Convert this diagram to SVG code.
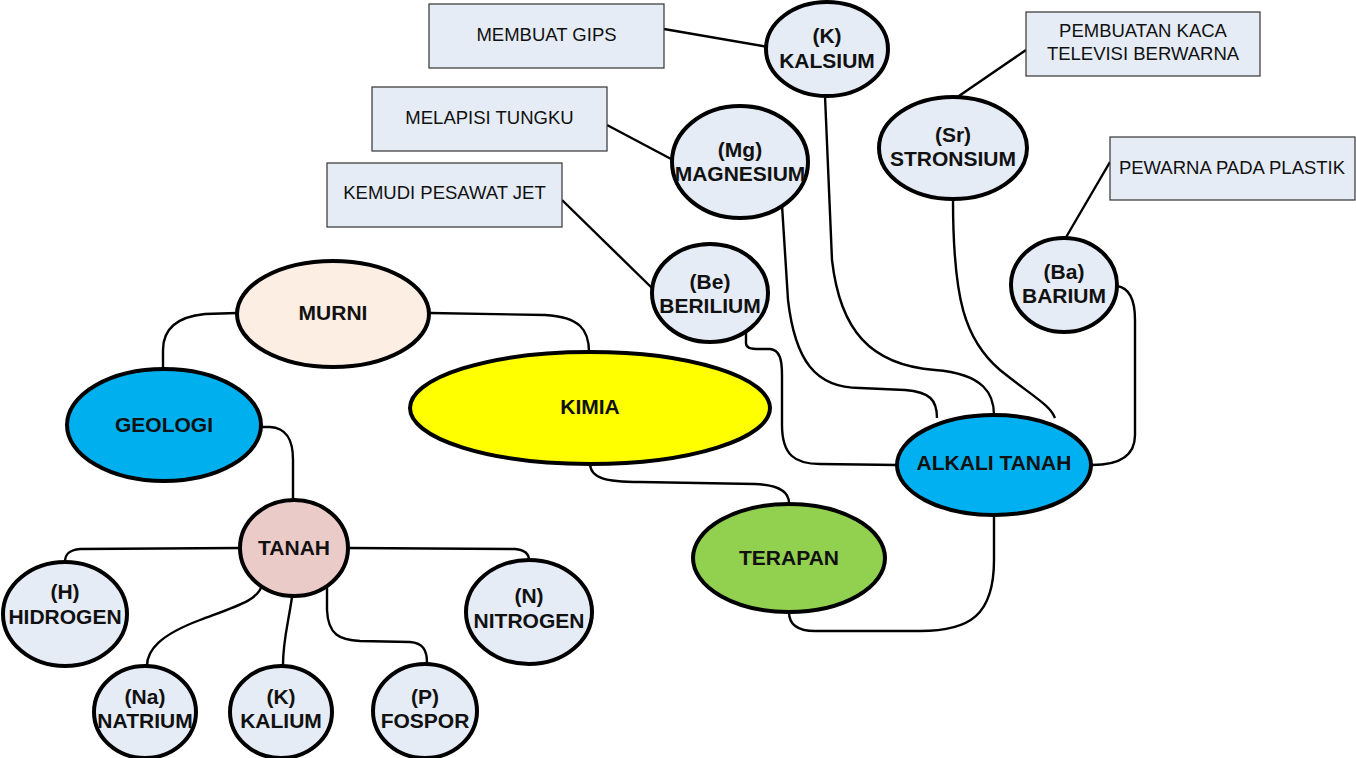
<svg xmlns="http://www.w3.org/2000/svg" width="1356" height="758" viewBox="0 0 1356 758">
<style>
.box{fill:#E6ECF6;stroke:#333;stroke-width:1.2}
.bt{font-family:"Liberation Sans",Arial,sans-serif;font-size:18.5px;fill:#111;text-anchor:middle}
.el{stroke:#000;stroke-width:4}
.lt{fill:#E6ECF6}
.nt{font-family:"Liberation Sans",Arial,sans-serif;font-size:21px;font-weight:bold;fill:#111;text-anchor:middle}
.cn path{fill:none;stroke:#000;stroke-width:2.4}
</style>
<rect width="1356" height="758" fill="#fff"/>
<g class="cn" id="connectors">
<path d="M664,29 L768,47"/>
<path d="M607,125 L673,160"/>
<path d="M562,200 L654,290"/>
<path d="M1026,50 L956,98"/>
<path d="M1110,162 L1065,239"/>
<path d="M825,96 L832,260 C840,330 870,365 935,370 C985,374 994,395 994,415"/>
<path d="M782,205 L788,300 C795,360 815,388 860,388 L905,390 C930,392 937,400 937,418"/>
<path d="M953,199 C953,300 965,340 1000,370 C1035,398 1050,405 1055,418"/>
<path d="M1117,286 C1130,288 1135,300 1135,320 L1135,435 C1135,455 1120,465 1092,465"/>
<path d="M746,333 L746,343 C746,348 750,349 760,349 L770,349 C780,350 782,360 782,375 L782,425 C782,455 795,464 820,464 L897,465"/>
<path d="M430,313 L545,315 C580,317 589,330 589,352"/>
<path d="M237,313 L205,314 C175,317 163,330 163,350 L163,369"/>
<path d="M261,427 L270,427 C287,428 293,440 293,460 L293,500"/>
<path d="M590,463 C590,478 605,482 640,482 L755,484 C780,485 789,492 789,503"/>
<path d="M994,515 L994,560 C994,615 970,631 920,631 L815,631 C795,631 789,622 789,612"/>
<path d="M240,548 L80,549 C68,550 65,555 65,562"/>
<path d="M348,548 L515,549 C525,550 529,554 529,560"/>
<path d="M262,585 C258,600 240,605 200,620 C160,635 147,650 147,666"/>
<path d="M292,597 C288,625 283,640 283,665"/>
<path d="M327,588 L327,610 C328,635 340,640 360,641 L410,642 C423,643 427,650 427,663"/>
</g>
<g id="gips"><rect class="box" x="429" y="4" width="235" height="64"/><text class="bt" x="546.5" y="41">MEMBUAT GIPS</text></g>
<g id="tungku"><rect class="box" x="372" y="87" width="235" height="64"/><text class="bt" x="489.5" y="124">MELAPISI TUNGKU</text></g>
<g id="jet"><rect class="box" x="327" y="163" width="235" height="64"/><text class="bt" x="444.5" y="199">KEMUDI PESAWAT JET</text></g>
<g id="kaca"><rect class="box" x="1026" y="12" width="234" height="64"/><text class="bt" x="1143" y="37">PEMBUATAN KACA</text><text class="bt" x="1143" y="60">TELEVISI BERWARNA</text></g>
<g id="plastik"><rect class="box" x="1110" y="137" width="245" height="63"/><text class="bt" x="1232" y="174">PEWARNA PADA PLASTIK</text></g>
<g id="kalsium"><ellipse class="el lt" cx="827" cy="49" rx="61" ry="47"/><text class="nt" x="827" y="43">(K)</text><text class="nt" x="827" y="68">KALSIUM</text></g>
<g id="magnesium"><ellipse class="el lt" cx="740" cy="162" rx="68" ry="56"/><text class="nt" x="740" y="157">(Mg)</text><text class="nt" x="740" y="181">MAGNESIUM</text></g>
<g id="stronsium"><ellipse class="el lt" cx="953" cy="148" rx="74" ry="51"/><text class="nt" x="953" y="142">(Sr)</text><text class="nt" x="953" y="166">STRONSIUM</text></g>
<g id="barium"><ellipse class="el lt" cx="1064" cy="285" rx="53" ry="47"/><text class="nt" x="1064" y="279">(Ba)</text><text class="nt" x="1064" y="303">BARIUM</text></g>
<g id="berilium"><ellipse class="el lt" cx="710" cy="293" rx="58" ry="49"/><text class="nt" x="710" y="289">(Be)</text><text class="nt" x="710" y="313">BERILIUM</text></g>
<g id="murni"><ellipse class="el" fill="#FDEEE3" cx="333" cy="314" rx="96" ry="53"/><text class="nt" x="333" y="320">MURNI</text></g>
<g id="geologi"><ellipse class="el" fill="#00B0EE" cx="164" cy="425" rx="97" ry="56"/><text class="nt" x="164" y="432">GEOLOGI</text></g>
<g id="kimia"><ellipse class="el" fill="#FFFF00" cx="590" cy="408" rx="180" ry="56"/><text class="nt" x="590" y="414">KIMIA</text></g>
<g id="alkali"><ellipse class="el" fill="#00B0F0" cx="994" cy="465" rx="97" ry="50"/><text class="nt" x="994" y="470">ALKALI TANAH</text></g>
<g id="terapan"><ellipse class="el" fill="#92D050" cx="789" cy="558" rx="96" ry="54"/><text class="nt" x="789" y="565">TERAPAN</text></g>
<g id="tanah"><ellipse class="el" fill="#EBCBC8" cx="294" cy="548" rx="54" ry="48"/><text class="nt" x="294" y="555">TANAH</text></g>
<g id="hidrogen"><ellipse class="el lt" cx="65" cy="614" rx="62" ry="52"/><text class="nt" x="65" y="599">(H)</text><text class="nt" x="65" y="624">HIDROGEN</text></g>
<g id="nitrogen"><ellipse class="el lt" cx="529" cy="612" rx="63" ry="52"/><text class="nt" x="529" y="603">(N)</text><text class="nt" x="529" y="628">NITROGEN</text></g>
<g id="natrium"><ellipse class="el lt" cx="145" cy="712" rx="51" ry="46"/><text class="nt" x="145" y="704">(Na)</text><text class="nt" x="145" y="728">NATRIUM</text></g>
<g id="kalium"><ellipse class="el lt" cx="281" cy="712" rx="51" ry="46"/><text class="nt" x="281" y="704">(K)</text><text class="nt" x="281" y="728">KALIUM</text></g>
<g id="fospor"><ellipse class="el lt" cx="425" cy="711" rx="52" ry="47"/><text class="nt" x="425" y="704">(P)</text><text class="nt" x="425" y="728">FOSPOR</text></g>
</svg>
